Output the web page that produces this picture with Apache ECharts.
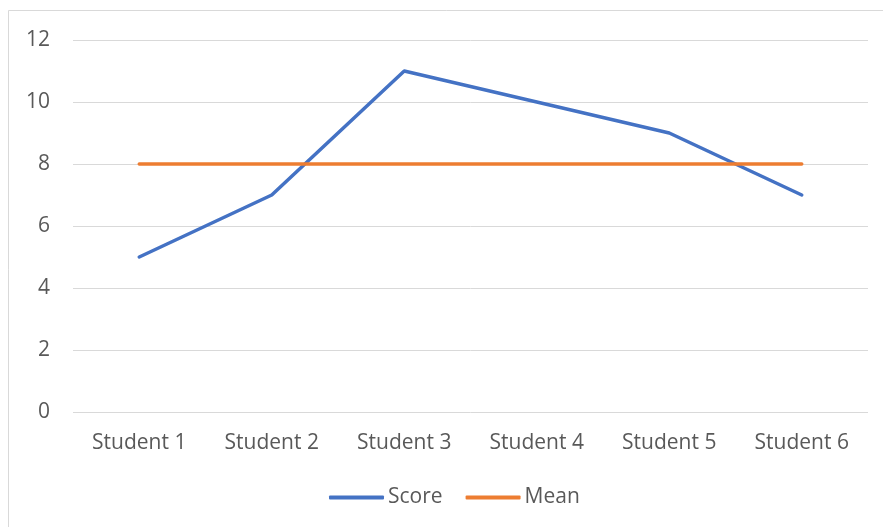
<!DOCTYPE html>
<html>
<head>
<meta charset="utf-8">
<script src="https://cdn.jsdelivr.net/npm/echarts@6/dist/echarts.min.js"></script>
<style>
  html, body { margin: 0; padding: 0; background: #ffffff; }
  #chart { width: 883px; height: 527px; }
</style>
</head>
<body>
<div id="chart"></div>
<script>
// Student scores and the class mean
const categories = ['Student 1', 'Student 2', 'Student 3', 'Student 4', 'Student 5', 'Student 6'];
const scoreValues = [5, 7, 11, 10, 9, 7];
const meanValues = [8, 8, 8, 8, 8, 8];
const yTicks = { min: 0, max: 12, interval: 2 };

const FONT = '"Open Sans", sans-serif';
const TEXT = '#595959';

const chart = echarts.init(document.getElementById('chart'), null, { renderer: 'canvas' });
chart.setOption({
  animation: false,
  backgroundColor: '#ffffff',
  graphic: [{
    type: 'rect',
    shape: { x: 8.5, y: 10.5, width: 1000, height: 1000 },
    style: { fill: 'none', stroke: '#d9d9d9', lineWidth: 1 },
    silent: true
  }],
  grid: { left: 73, right: 15, top: 40, bottom: 115, containLabel: false },
  legend: {
    bottom: 19,
    left: 329,
    padding: 0,
    itemWidth: 55,
    itemHeight: 4,
    itemGap: 23,
    icon: 'roundRect',
    textStyle: { fontFamily: FONT, fontSize: 21, color: TEXT, padding: [0, 0, 0, -1] },
    data: ['Score', 'Mean']
  },
  xAxis: {
    type: 'category',
    data: categories,
    boundaryGap: true,
    axisLine: { show: false },
    axisTick: { show: false },
    axisLabel: { fontFamily: FONT, fontSize: 21, color: TEXT, margin: 21 }
  },
  yAxis: {
    type: 'value',
    min: yTicks.min,
    max: yTicks.max,
    interval: yTicks.interval,
    axisLine: { show: false },
    axisTick: { show: false },
    axisLabel: { fontFamily: FONT, fontSize: 21, color: TEXT, margin: 23 },
    splitLine: { lineStyle: { color: '#d9d9d9', width: 1 } }
  },
  series: [
    {
      name: 'Score',
      type: 'line',
      data: scoreValues,
      symbol: 'none',
      lineStyle: { color: '#4472C4', width: 3.5, cap: 'round', join: 'round' },
      itemStyle: { color: '#4472C4' }
    },
    {
      name: 'Mean',
      type: 'line',
      data: meanValues,
      symbol: 'none',
      lineStyle: { color: '#ED7D31', width: 3.5, cap: 'round', join: 'round' },
      itemStyle: { color: '#ED7D31' }
    }
  ]
});
</script>
</body>
</html>
